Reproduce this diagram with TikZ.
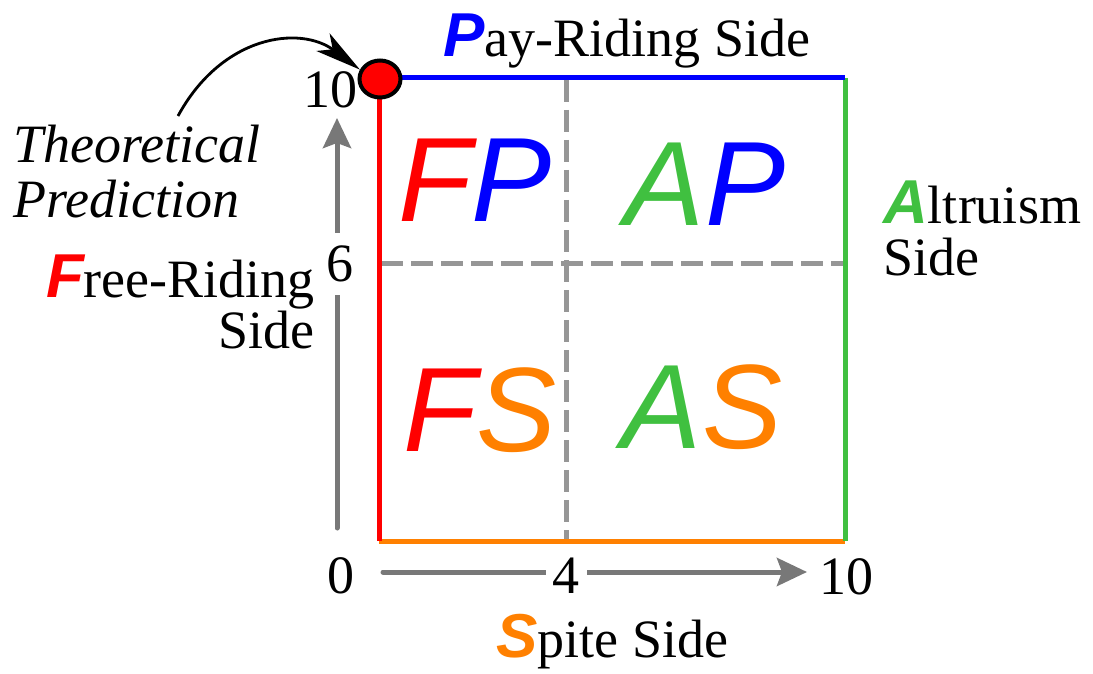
\documentclass[tikz,border=0pt]{standalone}
\usepackage{fontspec}
\setmainfont{Liberation Serif}
\newfontfamily\sansA{Liberation Sans}
\usetikzlibrary{arrows.meta,shapes.geometric}
\definecolor{cred}{RGB}{255,0,0}
\definecolor{cblue}{RGB}{0,0,255}
\definecolor{cgreen}{RGB}{64,192,64}
\definecolor{corange}{RGB}{255,128,0}
\definecolor{cdash}{RGB}{150,150,150}
\definecolor{caxis}{RGB}{120,120,120}
\newcommand{\ini}[2]{{\sansA\bfseries\itshape\fontsize{62}{62}\selectfont\color{#1}#2}}
\newcommand{\lblfont}{\fontsize{54}{54}\selectfont}
\newcommand{\quadfont}{\sansA\itshape\fontsize{120}{120}\selectfont}
\begin{document}
\begin{tikzpicture}[x=1pt,y=-1pt,
  side/.style={line width=5pt},
  gridline/.style={draw=cdash,line width=5pt,dash pattern=on 22pt off 8pt},
  axis/.style={draw=caxis,line width=5pt,line cap=round,-{Stealth[length=30pt,width=28pt,inset=5pt]}},
  num/.style={inner sep=0pt,font=\lblfont},
  quad/.style={inner sep=0pt,font=\quadfont},
  lbl/.style={inner sep=0pt}]
\useasboundingbox (0,0) rectangle (1093,674);
% corners
\coordinate (TL) at (379,78);
\coordinate (TR) at (845,78);
\coordinate (BL) at (379,541);
\coordinate (BR) at (845,541);
\coordinate (T4) at (566,80);
\coordinate (B4) at (566,539);
\coordinate (L6) at (381,263);
\coordinate (R6) at (843,263);
% dashed grid
\draw[gridline] (T4) -- (B4);
\draw[gridline] (L6) -- (R6);
% sides
\draw[side,corange] (BL) -- (BR);
\draw[side,cgreen] (TR) -- (BR);
\draw[side,cblue] (TL) -- (TR);
\draw[side,cred] (TL) -- (BL);
% axes
\coordinate (xs) at (383,572);
\coordinate (xe) at (807,572);
\coordinate (ys) at (337,528);
\coordinate (ye) at (337,118);
\draw[axis] (xs) -- (xe);
\draw[axis] (ys) -- (ye);
\node[num] (n0) at (341,576) {0};
\node[num,fill=white,inner xsep=7pt] (n4) at (566,576) {4};
\node[num] (n10x) at (846,577) {10};
\node[num,fill=white,inner ysep=13pt,inner xsep=2pt] (n6) at (340,264) {6};
\node[num] (n10y) at (330,90) {10};
% quadrant labels
\node[quad] (FP) at (475,180) {\textcolor{cred}{F}\textcolor{cblue}{P}};
\node[quad] (AP) at (705,184) {\textcolor{cgreen}{A}\textcolor{cblue}{P}};
\node[quad] (FS) at (480,410) {\textcolor{cred}{F}\textcolor{corange}{S}};
\node[quad] (AS) at (702,407) {\textcolor{cgreen}{A}\textcolor{corange}{S}};
% side labels
\node[lbl,anchor=base west,font=\lblfont] (pay) at (443,57) {\ini{cblue}{P}ay-Riding Side};
\node[lbl,anchor=base west,font=\lblfont] (spite) at (496,657) {\ini{corange}{S}pite Side};
\node[lbl,anchor=base west,align=left,font=\fontsize{54}{52}\selectfont] (alt) at (883,275) {\ini{cgreen}{A}ltruism\\Side};
\node[lbl,anchor=base east,align=right,font=\fontsize{54}{46}\selectfont] (free) at (315,348) {\ini{cred}{F}ree-Riding\\Side\hspace{10pt}};
\node[lbl,anchor=base west,align=left,font=\itshape\fontsize{54}{55}\selectfont] (theo) at (13,218) {Theoretical\\Prediction};
% theoretical prediction point
\node[ellipse,draw=black,fill=cred,line width=4pt,minimum width=41pt,minimum height=37pt,inner sep=0pt] (dot) at (380,79) {};
\coordinate (cs) at (178,116);
\draw[line width=2.8pt,-{Stealth[length=46pt,width=22pt,inset=12pt]}] (cs) .. controls (222,35) and (300,25) .. (dot.155);
\end{tikzpicture}
\end{document}
